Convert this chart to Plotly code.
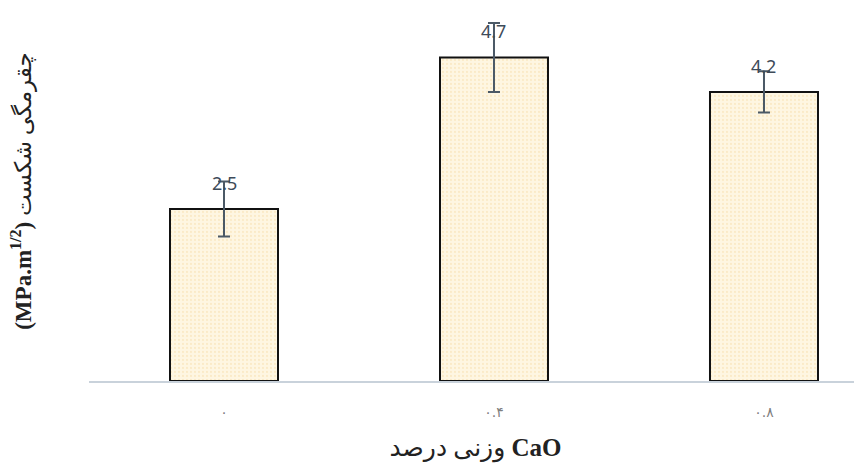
import plotly.graph_objects as go

categories = ["۰", "۰.۴", "۰.۸"]
toughness = [2.5, 4.7, 4.2]
toughness_err = [0.4, 0.5, 0.3]
value_labels = ["2.5", "4.7", "4.2"]

fig = go.Figure()

fig.add_trace(go.Bar(
    x=categories,
    y=toughness,
    width=0.4,
    marker=dict(
        color="#FEF6E2",
        line=dict(color="#111111", width=2),
        pattern=dict(shape=".", fgcolor="#F8DFAE", size=4, solidity=0.25),
    ),
    error_y=dict(type="data", array=toughness_err, visible=True,
                 color="#4B5966", thickness=2, width=6),
    showlegend=False,
))

# value labels sit above the bar top, crossing the error bar
for cat, val, lab in zip(categories, toughness, value_labels):
    fig.add_annotation(x=cat, y=val, text=lab, showarrow=False,
                       yshift=26, font=dict(family="Noto Sans", size=18, color="#3E4B59"))

fig.add_annotation(
    xref="paper", yref="paper", x=0, y=0.51, xshift=-67,
    xanchor="center", yanchor="middle",
    text="<b>(MPa.m<sup>1/2</sup>)</b> چقرمگی شکست",
    textangle=-90, showarrow=False,
    font=dict(family="Liberation Serif, DejaVu Sans", size=23, color="#222222"),
)

# page body adds an 8px margin, so the figure is 8px smaller each way
fig.update_layout(
    width=854, height=466,
    margin=dict(l=81, r=0, t=2, b=93),
    paper_bgcolor="white", plot_bgcolor="white",
    bargap=0.6,
)
fig.update_xaxes(
    type="category", range=[-0.5, 2.363],
    showline=True, linecolor="#C9D2DB", linewidth=2,
    showgrid=False, ticks="",
    ticklabelstandoff=17,
    tickfont=dict(family="DejaVu Sans", size=14, color="#7F7F7F"),
    title=dict(text="وزنی درصد <b>CaO</b>", standoff=20,
               font=dict(family="Liberation Serif, DejaVu Sans", size=25, color="#222222")),
)
fig.update_yaxes(range=[0, 5.39], showgrid=False, showticklabels=False,
                 zeroline=False, showline=False)

fig.write_html("out.html")
